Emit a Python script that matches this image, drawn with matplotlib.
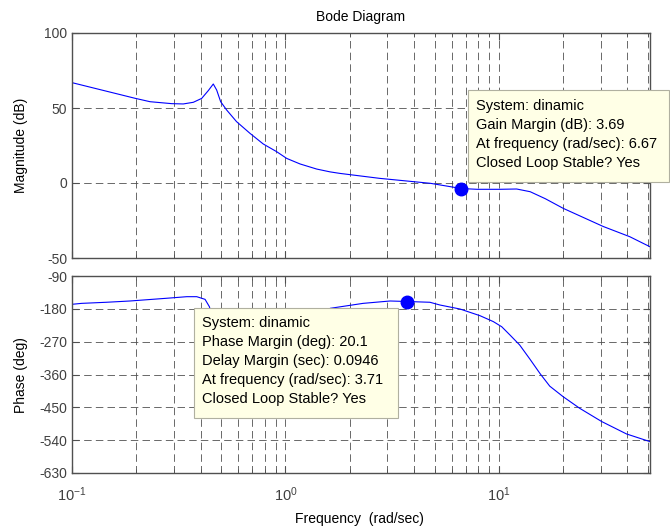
import numpy as np
import matplotlib
matplotlib.use('Agg')
import matplotlib.pyplot as plt
from matplotlib.patches import Rectangle
from matplotlib.ticker import LogLocator, NullFormatter

plt.rcParams['font.family'] = ['Liberation Sans', 'DejaVu Sans']
plt.rcParams['axes.unicode_minus'] = False

# magnitude curve
freq_mag = [0.1, 0.197, 0.232, 0.293, 0.332, 0.370, 0.405, 0.435, 0.459, 0.476, 0.497,
            0.530, 0.590, 0.682, 0.787, 0.909, 1.013, 1.17, 1.40, 1.62, 1.8, 2.76,
            4.77, 6.67, 7.9, 10.1, 12.1, 14.0, 16.5, 20.0, 30.8, 41.0, 51.0]
mag_db = [66.9, 56.5, 54.2, 52.9, 52.7, 53.8, 56.4, 61.6, 66.0, 62.0, 54.2,
          48.7, 40.9, 33.1, 26.0, 20.9, 16.4, 12.7, 9.3, 7.4, 6.4, 3.1,
          -0.2, -3.69, -4.2, -4.2, -4.0, -5.8, -10.5, -16.9, -29.0, -35.8, -42.5]

# phase curve (middle part sits under the data tip box)
freq_ph = [0.1, 0.111, 0.145, 0.187, 0.278, 0.345, 0.384, 0.42, 0.44, 0.47, 0.55,
           0.7, 0.9, 1.2, 1.45, 1.62, 2.31, 3.09, 3.71, 4.75, 5.29, 6.57, 8.15,
           9.41, 10.3, 11.26, 12.5, 13.97, 15.6, 17.3, 20.0, 23.9, 30.3, 39.6, 51.0]
phase_deg = [-167.6, -165, -162, -158.5, -151, -146.7, -146.7, -154, -174, -230, -290,
             -310, -300, -260, -210, -178.6, -165, -158.5, -159.9, -162, -169.5, -180.5, -198.8,
             -215, -229, -251.7, -279, -318, -358, -392, -421, -452.7, -489, -523, -544]

# margin markers
gm_freq, gm_db = 6.67, -3.69
pm_freq, pm_deg = 3.71, -159.9

gm_lines = ['System: dinamic', 'Gain Margin (dB): 3.69',
            'At frequency (rad/sec): 6.67', 'Closed Loop Stable? Yes']
pm_lines = ['System: dinamic', 'Phase Margin (deg): 20.1', 'Delay Margin (sec): 0.0946',
            'At frequency (rad/sec): 3.71', 'Closed Loop Stable? Yes']

W, H = 670, 530
fig = plt.figure(figsize=(W / 100, H / 100), dpi=100)


def fx(px):
    return px / W


def fy(py):
    return 1 - py / H


ax1 = fig.add_axes([fx(72), fy(258), fx(650) - fx(72), fy(33) - fy(258)])
ax2 = fig.add_axes([fx(72), fy(473), fx(650) - fx(72), fy(276) - fy(473)])

grid_kw = dict(color='#505050', linestyle=(0, (9, 5)), linewidth=0.6)
tick_col = '#505050'

for ax in (ax1, ax2):
    ax.set_xscale('log')
    ax.set_xlim(0.1, 51)
    ax.xaxis.set_minor_locator(LogLocator(base=10, subs=np.arange(2, 10)))
    ax.xaxis.set_minor_formatter(NullFormatter())
    ax.grid(True, which='major', axis='both', **grid_kw)
    ax.grid(True, which='minor', axis='x', **grid_kw)
    ax.tick_params(which='both', direction='in', top=True, right=True,
                   colors=tick_col, labelcolor='#404040', labelsize=10)
    ax.tick_params(which='major', length=5)
    ax.tick_params(which='minor', length=3)
    for s in ax.spines.values():
        s.set_color('#505050')
        s.set_linewidth(1.0)
    ax.set_axisbelow(True)

ax1.plot(freq_mag, mag_db, color='#0000ff', lw=0.8)
ax1.plot([gm_freq], [gm_db], 'o', color='#0000ff', ms=9)
ax1.set_ylim(-50, 100)
ax1.set_yticks([-50, 0, 50, 100])
ax1.tick_params(labelbottom=False)

ax2.plot(freq_ph, phase_deg, color='#0000ff', lw=0.8)
ax2.plot([pm_freq], [pm_deg], 'o', color='#0000ff', ms=9)
ax2.set_ylim(-630, -90)
ax2.set_yticks(np.arange(-630, -89, 90))
ax2.tick_params(axis='x', which='major', pad=9, labelsize=10.5)

# titles and labels placed like the MATLAB figure
fig.text(fx(361), fy(17), 'Bode Diagram', fontsize=10, ha='center', va='center')
fig.text(fx(359), fy(519), 'Frequency  (rad/sec)', fontsize=10, ha='center', va='center')
fig.text(fx(21), fy(145), 'Magnitude (dB)', fontsize=10, rotation=90,
         ha='center', va='center')
fig.text(fx(21), fy(375), 'Phase (deg)', fontsize=10, rotation=90,
         ha='center', va='center')


def data_tip(x0, y0, x1, y1, lines, tx, ty0):
    fig.patches.append(Rectangle((fx(x0), fy(y1)), fx(x1) - fx(x0), fy(y0) - fy(y1),
                                 transform=fig.transFigure, facecolor='#ffffe6',
                                 edgecolor='#b0b0a0', linewidth=0.8, zorder=5))
    for i, t in enumerate(lines):
        fig.text(fx(tx), fy(ty0 + 19 * i), t, fontsize=10.5, ha='left', va='center',
                 color='black', zorder=6)


data_tip(468, 90, 669, 182, gm_lines, 476, 106)
data_tip(194, 308, 398, 418, pm_lines, 202, 323)

fig.savefig('out.png', dpi=100)
